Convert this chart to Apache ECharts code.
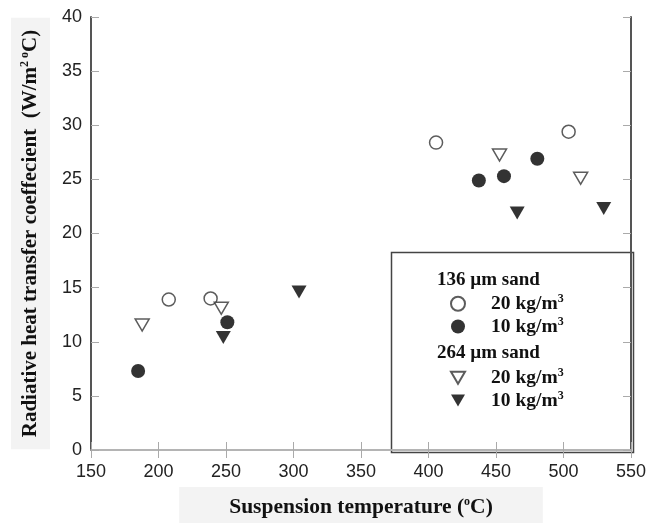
<!DOCTYPE html>
<html>
<head>
<meta charset="utf-8">
<script src="https://cdn.jsdelivr.net/npm/echarts@6/dist/echarts.min.js"></script>
<style>
  html, body { margin: 0; padding: 0; background: #fff; }
  #main { width: 663px; height: 523px; }
</style>
</head>
<body>
<div id="main"></div>
<script>
// x tick values and y tick values
const xTicks = [150, 200, 250, 300, 350, 400, 450, 500, 550];
const yTicks = [0, 5, 10, 15, 20, 25, 30, 35, 40];

// [temperature (C), coefficient (W/m2C)]
const sand136_20 = [[207.6, 13.9], [238.6, 14.0], [405.6, 28.4], [503.8, 29.4]];
const sand136_10 = [[184.9, 7.3], [251, 11.8], [437.3, 24.9], [455.9, 25.3], [480.6, 26.9]];
const sand264_20 = [[187.9, 11.55], [246.5, 13.1], [452.6, 27.25], [512.7, 25.1]];
const sand264_10 = [[248, 10.4], [304.1, 14.6], [465.7, 21.9], [529.8, 22.3]];

const seriesNames = ['136 20', '136 10', '264 20', '264 10'];

const chart = echarts.init(document.getElementById('main'));

const serif = '"Liberation Serif", "Times New Roman", serif';
const sans = '"Liberation Sans", Arial, sans-serif';
const downTri = 'path://M0,0L20,0L10,17Z';

// axis helper so ticks show on all four sides
const axisBase = (min, max, interval) => ({
  type: 'value',
  min: min,
  max: max,
  interval: interval,
  splitLine: { show: false },
  axisTick: { show: true, inside: true, length: 8, lineStyle: { color: '#aaa', width: 1 } },
});

// rich text pieces: normal bold serif + superscript
const richText = size => ({
  a: { fontFamily: serif, fontWeight: 'bold', fontSize: size, color: '#111', lineHeight: size + 2 },
  s: { fontFamily: serif, fontWeight: 'bold', fontSize: 12, color: '#111', verticalAlign: 'top', lineHeight: size + 2, padding: [0, 0, 7, 0] }
});

const openStyle = { color: '#fff', borderColor: '#333', borderWidth: 1.5 };
const fillStyle = { color: '#000' };

const legendText = { padding: [0, 0, 0, 21], rich: richText(19.5) };
const legendFmt = name => '{a|' + name.split(' ')[1] + ' kg/m}{s|3}';

const option = {
  animation: false,
  grid: { left: 91, right: 32, top: 17, bottom: 73, outerBoundsMode: 'none', containLabel: false },
  xAxis: [
    Object.assign(axisBase(xTicks[0], xTicks[xTicks.length - 1], 50), {
      position: 'bottom',
      axisLine: { lineStyle: { color: '#888', width: 1.5 } },
      axisLabel: { margin: 13, fontFamily: sans, fontSize: 18, color: '#222' },
      name: '{a|Suspension temperature (}{s|o}{a|C)}',
      nameLocation: 'middle',
      nameGap: 37,
      nameTextStyle: { backgroundColor: '#f3f3f3', padding: [9, 50, 9, 50], rich: richText(21.5) }
    }),
    Object.assign(axisBase(xTicks[0], xTicks[xTicks.length - 1], 50), {
      position: 'top',
      axisLine: { lineStyle: { color: '#bbb', width: 1.5 } },
      axisLabel: { show: false }
    })
  ],
  yAxis: [
    Object.assign(axisBase(yTicks[0], yTicks[yTicks.length - 1], 5), {
      position: 'left',
      axisLine: { show: true, lineStyle: { color: '#555', width: 2 } },
      axisLabel: { margin: 9, fontFamily: sans, fontSize: 18, color: '#222' },
      name: '{a|Radiative heat transfer coeffecient  (W/m}{s|2 o}{a|C)}',
      nameLocation: 'middle',
      nameGap: 41,
      nameTextStyle: { backgroundColor: '#f3f3f3', padding: [8, 12, 8, 12], rich: richText(21) }
    }),
    Object.assign(axisBase(yTicks[0], yTicks[yTicks.length - 1], 5), {
      position: 'right',
      axisLine: { show: true, lineStyle: { color: '#555', width: 2 } },
      axisLabel: { show: false }
    })
  ],
  // two legend blocks, one per sand size
  legend: [
    {
      data: [{ name: seriesNames[0], icon: 'circle' }, { name: seriesNames[1], icon: 'circle' }],
      orient: 'vertical', left: 450, top: 293, padding: 0,
      itemWidth: 14, itemHeight: 14, itemGap: 2,
      formatter: legendFmt, textStyle: legendText
    },
    {
      data: [{ name: seriesNames[2], icon: downTri }, { name: seriesNames[3], icon: downTri }],
      orient: 'vertical', left: 450, top: 367, padding: 0,
      itemWidth: 14, itemHeight: 12, itemGap: 2,
      formatter: legendFmt, textStyle: legendText
    }
  ],
  graphic: [
    {
      type: 'rect', left: 389, top: 250, z: -1,
      shape: { width: 242, height: 200 },
      style: { fill: 'none', stroke: '#444', lineWidth: 1.5 }
    },
    {
      type: 'text', left: 437, top: 271,
      style: { text: '136 \u00b5m sand', font: 'bold 19px ' + serif, fill: '#111' }
    },
    {
      type: 'text', left: 437, top: 344,
      style: { text: '264 \u00b5m sand', font: 'bold 19px ' + serif, fill: '#111' }
    }
  ],
  series: [
    { name: seriesNames[0], type: 'scatter', data: sand136_20, symbol: 'circle', symbolSize: 13, itemStyle: openStyle },
    { name: seriesNames[1], type: 'scatter', data: sand136_10, symbol: 'circle', symbolSize: 14, itemStyle: fillStyle },
    { name: seriesNames[2], type: 'scatter', data: sand264_20, symbol: 'triangle', symbolRotate: 180, symbolSize: [14, 12], itemStyle: openStyle },
    { name: seriesNames[3], type: 'scatter', data: sand264_10, symbol: 'triangle', symbolRotate: 180, symbolSize: [15, 13], itemStyle: fillStyle }
  ]
};

chart.setOption(option);
</script>
</body>
</html>
